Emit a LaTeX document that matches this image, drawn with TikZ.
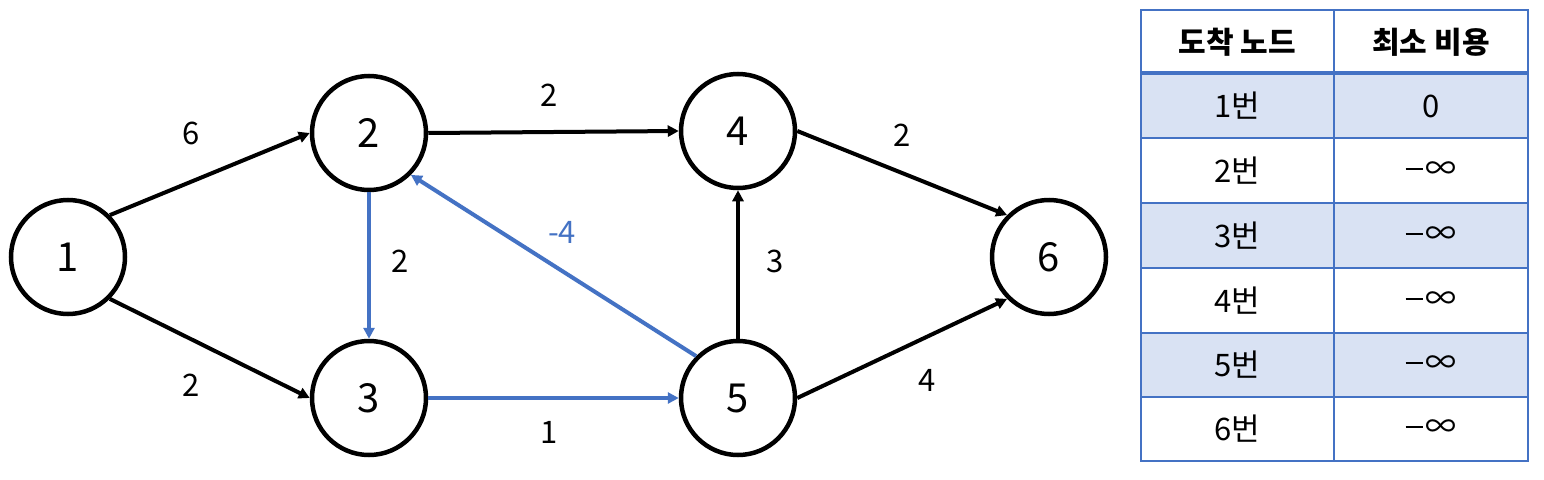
\documentclass[tikz,border=0pt]{standalone}
\usepackage{fontspec}
\setmainfont{Noto Sans CJK KR}
\usetikzlibrary{arrows.meta}
\definecolor{pblue}{HTML}{4472C4}
\definecolor{pfill}{HTML}{D9E2F3}
\newcommand{\negInf}{\rule[9.5pt]{17pt}{2.2pt}\hspace{3pt}∞}
\begin{document}
\begin{tikzpicture}[x=1pt,y=-1pt,
  vtx/.style={circle,draw=black,line width=4.5pt,minimum size=114pt,inner sep=0pt,font=\fontsize{40}{44}\selectfont},
  edg/.style={line width=4pt,-{Triangle[length=11pt,width=11pt]}},
  blueedg/.style={edg,draw=pblue,-{Triangle[length=11pt,width=11pt,color=pblue]}},
  wlab/.style={font=\fontsize{31}{34}\selectfont,inner sep=0pt},
  tcell/.style={font=\fontsize{31}{34}\selectfont,inner sep=0pt},
  thead/.style={font=\bfseries\fontsize{30}{33}\selectfont,inner sep=0pt},
  tline/.style={draw=pblue,line width=2.2pt}]
\useasboundingbox (0,0) rectangle (1544,479);
\fill[white] (0,0) rectangle (1544,479);
% nodes
\node[vtx] (n1) at (68,257) {1};
\node[vtx] (n2) at (369,133) {2};
\node[vtx] (n3) at (369,398) {3};
\node[vtx] (n4) at (738,131) {4};
\node[vtx] (n5) at (738,398) {5};
\node[vtx] (n6) at (1049,257) {6};
% edges
\draw[edg] (n1.north east) -- (n2.west);
\draw[edg] (n1.south east) -- (n3.west);
\draw[edg] (n2.east) -- (n4.west);
\draw[edg] (n5.north) -- (n4.south);
\draw[edg] (n4.east) -- (n6.north west);
\draw[edg] (n5.east) -- (n6.south west);
\draw[blueedg] (n2.south) -- (n3.north);
\draw[blueedg] (n3.east) -- (n5.west);
\draw[blueedg] (n5.north west) -- (n2.south east);
% labels
\node[wlab] (l12) at (191,133) {6};
\node[wlab] (l13) at (191,385) {2};
\node[wlab] (l24) at (549,95) {2};
\node[wlab] (l23) at (400,261) {2};
\node[wlab,text=pblue] (l52) at (562,232) {-4};
\node[wlab] (l35) at (549,432) {1};
\node[wlab] (l54) at (775,261) {3};
\node[wlab] (l46) at (902,135) {2};
\node[wlab] (l56) at (927,380) {4};
% table
\fill[pfill] (1141,73) rectangle (1528,138);
\fill[pfill] (1141,203) rectangle (1528,268);
\fill[pfill] (1141,333) rectangle (1528,397);
\foreach \yy in {138,203,268,333,397} \draw[tline] (1141,\yy) -- (1528,\yy);
\draw[draw=pblue,line width=4pt] (1141,73) -- (1528,73);
\draw[tline] (1334,10) -- (1334,461);
\draw[tline] (1141,10) rectangle (1528,461);
\node[thead] (h1) at (1237.5,42) {도착 노드};
\node[thead] (h2) at (1431,42) {최소 비용};
\node[tcell] (a1) at (1237.5,106) {1번};
\node[tcell] (b1) at (1431,106) {0};
\node[tcell] (a2) at (1237.5,171) {2번};
\node[tcell] (b2) at (1431,171) {\negInf};
\node[tcell] (a3) at (1237.5,236) {3번};
\node[tcell] (b3) at (1431,236) {\negInf};
\node[tcell] (a4) at (1237.5,301) {4번};
\node[tcell] (b4) at (1431,301) {\negInf};
\node[tcell] (a5) at (1237.5,365) {5번};
\node[tcell] (b5) at (1431,365) {\negInf};
\node[tcell] (a6) at (1237.5,429) {6번};
\node[tcell] (b6) at (1431,429) {\negInf};
\end{tikzpicture}
\end{document}
